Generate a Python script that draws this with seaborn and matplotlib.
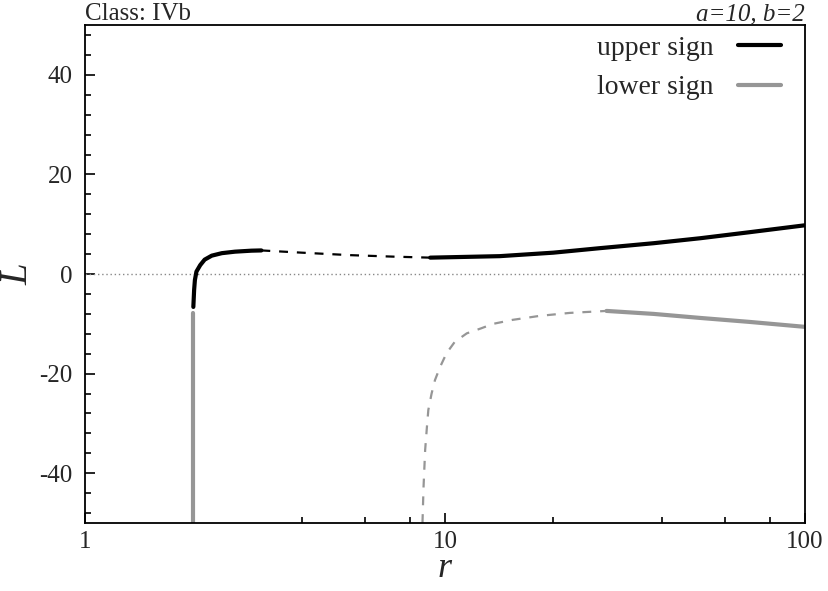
import numpy as np
import pandas as pd
import matplotlib
matplotlib.use("Agg")
import matplotlib.pyplot as plt
import matplotlib.ticker as mticker
import seaborn as sns

# --- donnees ---
up_in_r = [2.0, 2.01, 2.02, 2.04, 2.09, 2.15, 2.25, 2.40, 2.61, 2.90, 3.09]
up_in_L = [-6.6, -3.2, -1.2, 0.5, 1.8, 2.9, 3.7, 4.2, 4.5, 4.7, 4.75]
up_mid_r = [3.09, 4.0, 5.46, 7.2, 9.1]
up_mid_L = [4.75, 4.3, 3.8, 3.5, 3.3]
up_out_r = [9.1, 14.2, 20.0, 26.9, 38.0, 51.2, 70.0, 100.0]
up_out_L = [3.3, 3.6, 4.3, 5.2, 6.2, 7.2, 8.4, 9.8]

lo_in_r = [2.0, 2.0]
lo_in_L = [-7.8, -50.0]
lo_mid_r = [8.66, 8.72, 8.81, 8.91, 8.99, 9.18, 9.38, 9.70, 10.1, 10.65,
            11.5, 12.6, 13.6, 15.4, 18.3, 22.2, 28.1]
lo_mid_L = [-50.0, -42.7, -35.3, -30.7, -27.3, -24.0, -21.3, -18.6, -15.9, -13.6,
            -11.9, -10.9, -10.0, -9.2, -8.4, -7.8, -7.4]
lo_out_r = [28.1, 38.0, 51.0, 70.0, 100.0]
lo_out_L = [-7.4, -8.0, -8.8, -9.6, -10.6]

BLACK = "black"
GREY = "#969696"

sns.set_theme(style="ticks")
plt.rcParams["font.family"] = ["Liberation Serif", "DejaVu Serif"]

fig = plt.figure(figsize=(8.29, 5.91), dpi=100)
ax = fig.add_axes([0.1025, 0.115, 0.8685, 0.8425])

ax.axhline(0, color="#888888", lw=1.0, ls=(0, (1, 2)), zorder=1)


def seg(r, L, color, lw, ls="-"):
    """Un morceau de courbe (pas d'agregation seaborn)."""
    df = pd.DataFrame({"r": r, "L": L})
    sns.lineplot(data=df, x="r", y="L", color=color, lw=lw, ls=ls,
                 estimator=None, sort=False, ax=ax, legend=False)


seg(up_in_r, up_in_L, BLACK, 3.0)
seg(up_mid_r, up_mid_L, BLACK, 1.6, (0, (4, 4)))
seg(up_out_r, up_out_L, BLACK, 3.0)
seg(lo_in_r, lo_in_L, GREY, 3.0)
seg(lo_mid_r, lo_mid_L, GREY, 1.6, (0, (4, 4)))
seg(lo_out_r, lo_out_L, GREY, 3.0)

ax.set_xscale("log")
ax.set_xlim(1, 100)
ax.set_ylim(-50, 50)
ax.xaxis.set_major_locator(mticker.FixedLocator([1, 10, 100]))
ax.xaxis.set_major_formatter(mticker.FixedFormatter(["1", "10", "100"]))
ax.xaxis.set_minor_locator(mticker.FixedLocator([2, 4, 6, 8, 20, 40, 60, 80]))
ax.xaxis.set_minor_formatter(mticker.NullFormatter())
ax.set_yticks([-40, -20, 0, 20, 40])
ax.set_yticklabels(["-40", "-20", "0", "20", "40"])
ax.yaxis.set_minor_locator(mticker.MultipleLocator(4))

ax.tick_params(which="both", direction="in", top=False, right=False,
               labelsize=18, pad=9, color="black", width=1.2)
ax.tick_params(axis="x", which="major", pad=6)
ax.tick_params(which="major", length=7)
ax.tick_params(which="minor", length=4)
for s in ax.spines.values():
    s.set_linewidth(1.3)
    s.set_color("black")

ax.set_xlabel("r", fontsize=26, style="italic", labelpad=-1)
ax.set_ylabel("L", fontsize=28, style="italic", labelpad=2)

ax.set_title("Class: IVb", loc="left", fontsize=18, pad=3)
ax.set_title("a=10, b=2", loc="right", fontsize=18, style="italic", pad=3)

handles = [plt.Line2D([], [], color=BLACK, lw=3.0),
           plt.Line2D([], [], color=GREY, lw=3.0)]
ax.legend(handles, ["upper sign", "lower sign"], loc="upper right",
          bbox_to_anchor=(0.975, 0.99),
          frameon=False, markerfirst=False, fontsize=20, handlelength=1.55,
          borderaxespad=0.0, borderpad=0.2, labelspacing=0.5, handletextpad=0.9)

fig.savefig("out.png", dpi=100)
